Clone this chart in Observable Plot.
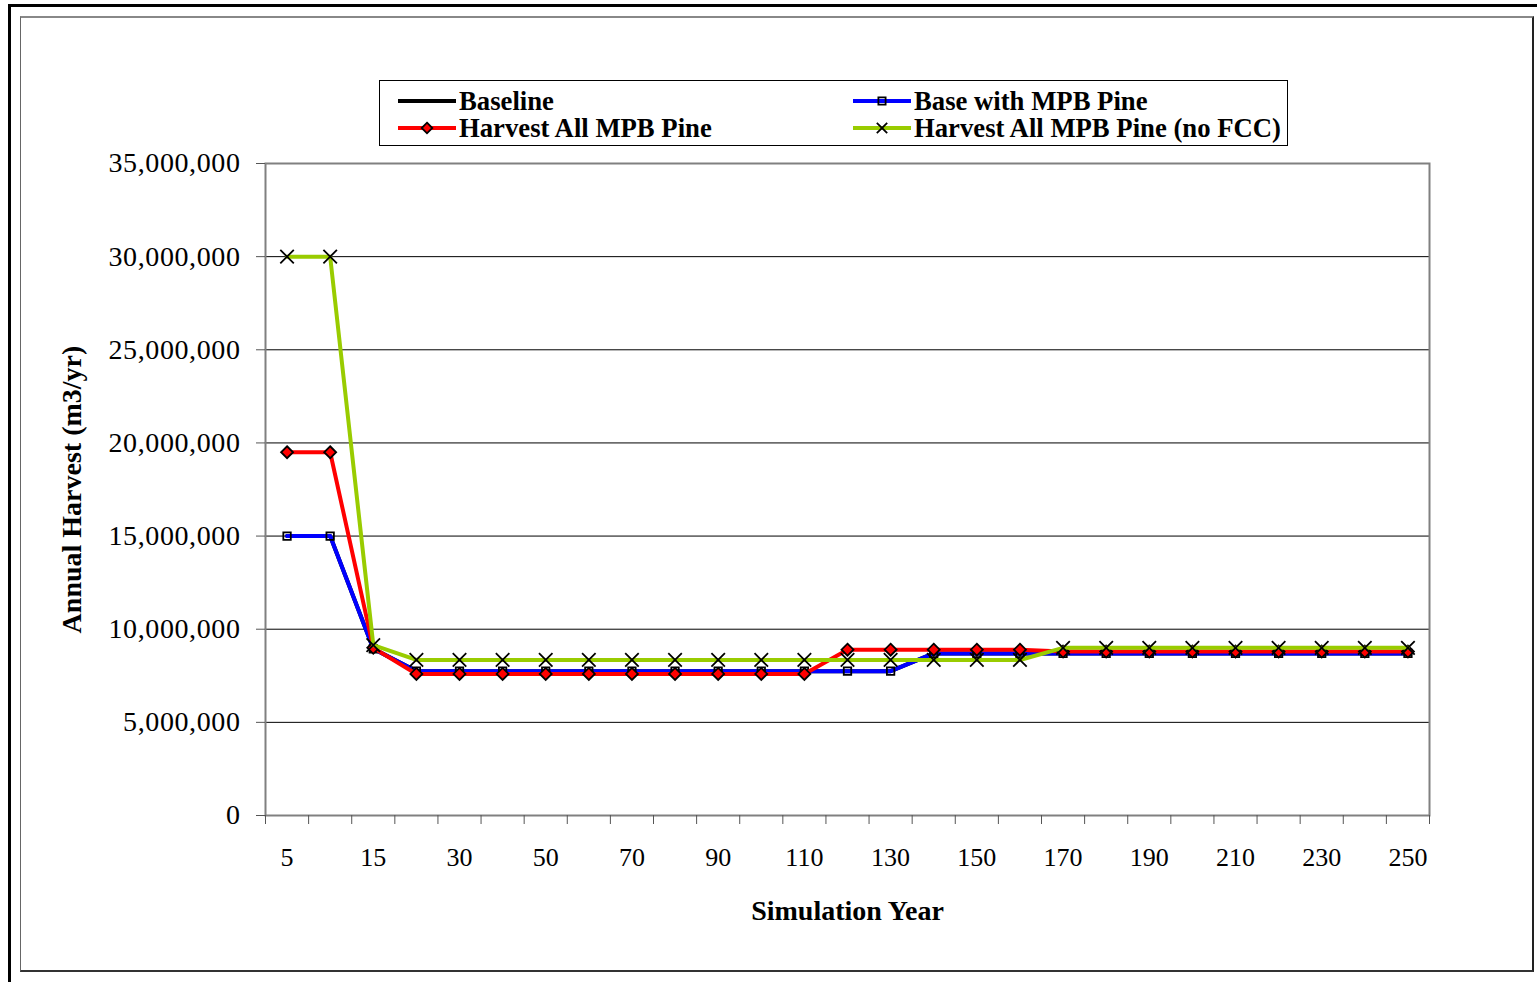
<!DOCTYPE html>
<html>
<head>
<meta charset="utf-8">
<script src="https://cdn.jsdelivr.net/npm/d3@7"></script>
<script src="https://cdn.jsdelivr.net/npm/@observablehq/plot@0.6"></script>
<style>
  body { margin: 0; background: #fff; }
  #wrap { position: relative; width: 1537px; height: 982px; overflow: hidden;
          font-family: "Liberation Serif", "Times New Roman", serif; background: #fff; }
  #outer { position: absolute; left: 8px; top: 4px; width: 2000px; height: 2000px;
           border-left: 3px solid #000; border-top: 3px solid #000; }
  #inner { position: absolute; left: 20px; top: 16px; width: 1511px; height: 952px;
           border-left: 1px solid #666; border-top: 2px solid #888;
           border-right: 2px solid #222; border-bottom: 2px solid #333; }
  #chart { position: absolute; left: 0; top: 0; }
  #chart g[aria-label="x-axis label"] text,
  #chart g[aria-label="y-axis label"] text { font-weight: bold; font-size: 28px; }
  #chart g[aria-label="y-axis tick label"] text { letter-spacing: 0.6px; }
  #legend { position: absolute; left: 379px; top: 80px; width: 909px; height: 66px;
            border: 1px solid #000; box-sizing: border-box; background: #fff; }
  .item { position: absolute; display: flex; align-items: center; height: 26px;
          font-weight: bold; font-size: 26.7px; white-space: nowrap; }
  .item svg { margin-right: 3px; }
</style>
</head>
<body>
<div id="wrap">
  <div id="outer"></div>
  <div id="inner"></div>
  <div id="chart"></div>
  <div id="legend"></div>
</div>
<script>
// Simulation years (category axis) and annual harvest per scenario, m3/yr
const years = [5, 10, 15, 20, 30, 40, 50, 60, 70, 80, 90, 100, 110, 120, 130,
               140, 150, 160, 170, 180, 190, 200, 210, 220, 230, 240, 250];

const baseline = [15000000, 15000000, 8950000,
  7750000, 7750000, 7750000, 7750000, 7750000, 7750000, 7750000, 7750000, 7750000, 7750000, 7750000, 7750000,
  8700000, 8700000, 8700000, 8700000, 8700000, 8700000, 8700000, 8700000, 8700000, 8700000, 8700000, 8700000];

const baseWithMpb = [15000000, 15000000, 8950000,
  7750000, 7750000, 7750000, 7750000, 7750000, 7750000, 7750000, 7750000, 7750000, 7750000, 7750000, 7750000,
  8700000, 8700000, 8700000, 8700000, 8700000, 8700000, 8700000, 8700000, 8700000, 8700000, 8700000, 8700000];

const harvestAllMpb = [19500000, 19500000, 9000000,
  7600000, 7600000, 7600000, 7600000, 7600000, 7600000, 7600000, 7600000, 7600000, 7600000,
  8900000, 8900000, 8900000, 8900000, 8900000,
  8800000, 8800000, 8800000, 8800000, 8800000, 8800000, 8800000, 8800000, 8800000];

const harvestAllMpbNoFcc = [30000000, 30000000, 9150000,
  8350000, 8350000, 8350000, 8350000, 8350000, 8350000, 8350000, 8350000, 8350000, 8350000, 8350000, 8350000,
  8350000, 8350000, 8350000,
  9000000, 9000000, 9000000, 9000000, 9000000, 9000000, 9000000, 9000000, 9000000];

const yTicks = [0, 5000000, 10000000, 15000000, 20000000, 25000000, 30000000, 35000000];

const series = [
  {name: "Baseline", values: baseline, color: "#000000", symbol: null},
  {name: "Base with MPB Pine", values: baseWithMpb, color: "#0000FF", symbol: "square"},
  {name: "Harvest All MPB Pine", values: harvestAllMpb, color: "#FF0000", symbol: "diamond"},
  {name: "Harvest All MPB Pine (no FCC)", values: harvestAllMpbNoFcc, color: "#99CC00", symbol: "times"}
];

// Marker styles per symbol
const markerStyle = {
  square:  (c) => ({symbol: "square", r: 4.2, fill: "none", stroke: "#000", strokeWidth: 1.8}),
  diamond: (c) => ({symbol: "diamond2", r: 5.4, fill: c, stroke: "#000", strokeWidth: 1.8}),
  times:   (c) => ({symbol: "times", r: 6.2, fill: "none", stroke: "#000", strokeWidth: 1.8})
};

const rowsOf = (s) => s.values.map((v, i) => ({series: s.name, i, year: years[i], value: v}));

const marks = [
  Plot.gridY(yTicks.filter(t => t > 0), {stroke: "#000", strokeOpacity: 1, strokeWidth: 1}),
  Plot.frame({stroke: "#808080", strokeWidth: 2}),
  Plot.axisY({
    ticks: yTicks, tickFormat: d3.format(","), tickSize: 9, tickPadding: 16,
    fontSize: 28, stroke: "#555",
    label: "Annual Harvest (m3/yr)", labelAnchor: "center", labelArrow: "none", labelOffset: 204
  }),
  // tick marks sit on the boundaries between year categories
  Plot.axisX({
    ticks: d3.range(-0.5, years.length, 1), tickSize: 9, tickFormat: () => "",
    stroke: "#555", label: null
  }),
  Plot.axisX({
    ticks: years.map((d, i) => i).filter(i => i % 2 === 0), tickSize: 0, tickPadding: 32,
    tickFormat: (i) => String(years[i]), fontSize: 26,
    label: "Simulation Year", labelAnchor: "center", labelArrow: "none", labelOffset: 104
  })
];

for (const s of series) {
  const rows = rowsOf(s);
  marks.push(Plot.line(rows, {x: "i", y: "value", stroke: s.color, strokeWidth: 4}));
  if (s.symbol) {
    marks.push(Plot.dot(rows, {x: "i", y: "value", ...markerStyle[s.symbol](s.color)}));
  }
}

const chart = Plot.plot({
  width: 1537,
  height: 982,
  marginLeft: 265,
  marginRight: 108,
  marginTop: 163,
  marginBottom: 167,
  style: {background: "none", fontFamily: "'Liberation Serif', 'Times New Roman', serif", fontSize: "26px", color: "#000"},
  x: {type: "linear", domain: [-0.5, years.length - 0.5], axis: null},
  y: {domain: [0, 35000000], axis: null},
  marks
});
document.getElementById("chart").appendChild(chart);

// Legend: line swatch with marker, then series name
const legend = document.getElementById("legend");
const slots = [
  {left: 18, top: 7}, {left: 473, top: 7},
  {left: 18, top: 34}, {left: 473, top: 34}
];
const symbolPaths = {
  square: d3.symbol(d3.symbolSquare, 52)(),
  diamond: d3.symbol(d3.symbolDiamond2, 72)(),
  times: d3.symbol(d3.symbolTimes, 72)()
};
series.forEach((s, k) => {
  const item = document.createElement("div");
  item.className = "item";
  item.style.left = slots[k].left + "px";
  item.style.top = slots[k].top + "px";
  const svg = d3.create("svg").attr("width", 58).attr("height", 20);
  svg.append("line").attr("x1", 0).attr("x2", 58).attr("y1", 10).attr("y2", 10)
    .attr("stroke", s.color).attr("stroke-width", 4);
  if (s.symbol) {
    const st = markerStyle[s.symbol](s.color);
    svg.append("path").attr("d", symbolPaths[s.symbol]).attr("transform", "translate(29,10)")
      .attr("fill", st.fill).attr("stroke", st.stroke).attr("stroke-width", st.strokeWidth);
  }
  item.appendChild(svg.node());
  const label = document.createElement("span");
  label.textContent = s.name;
  item.appendChild(label);
  legend.appendChild(item);
});
</script>
</body>
</html>
